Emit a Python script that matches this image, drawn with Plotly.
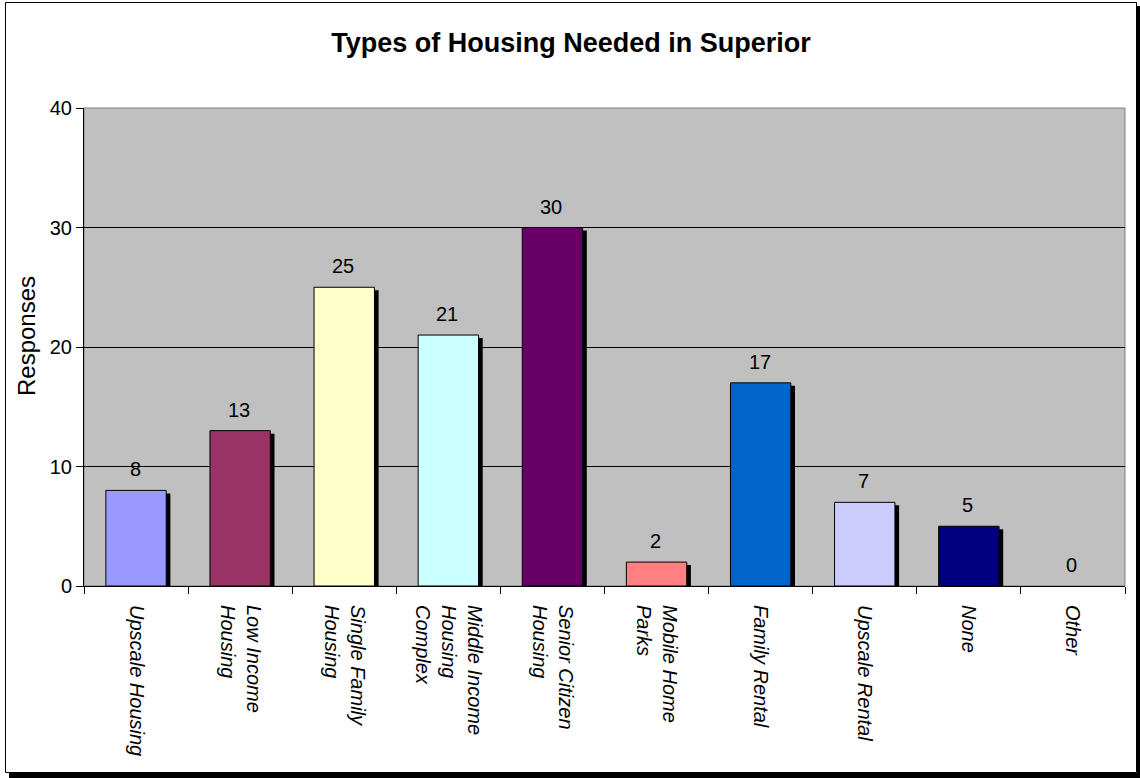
import plotly.graph_objects as go

# Survey responses: types of housing needed
categories = [
    "Upscale Housing",
    "Low Income<br>Housing",
    "Single Family<br>Housing",
    "Middle Income<br>Housing<br>Complex",
    "Senior Citizen<br>Housing",
    "Mobile Home<br>Parks",
    "Family Rental",
    "Upscale Rental",
    "None",
    "Other",
]
responses = [8, 13, 25, 21, 30, 2, 17, 7, 5, 0]
bar_colors = [
    "#9999FF", "#993366", "#FFFFCC", "#CCFFFF", "#660066",
    "#FF8080", "#0066CC", "#CCCCFF", "#000080", "#FFFF00",
]
y_ticks = [0, 10, 20, 30, 40]

FONT = "Liberation Sans, Arial, sans-serif"
W, H = 1140, 778
L, R, T, B = 84, 15, 108, 192
PW, PH = W - L - R, H - T - B

BAR_W = 0.58
BAR_OFF = -0.29


def px_x(px):
    return (px - L) / PW


def px_y(py):
    return (H - B - py) / PH


fig = go.Figure()

# drop shadow behind each bar (shifted right and down)
fig.add_trace(go.Bar(
    x=categories, y=responses, base=[-0.25] * len(responses),
    width=BAR_W, offset=BAR_OFF + 0.04,
    marker=dict(color="black", line=dict(width=0)),
    hoverinfo="skip", showlegend=False,
))

fig.add_trace(go.Bar(
    x=categories, y=responses,
    width=BAR_W, offset=BAR_OFF,
    marker=dict(color=bar_colors,
                line=dict(color="black", width=[1 if v > 0 else 0 for v in responses])),
    showlegend=False,
))

annotations = [
    dict(x=c, y=v, text=str(v), showarrow=False, yanchor="bottom",
         xshift=-1, yshift=8, font=dict(size=20, color="black", family=FONT))
    for c, v in zip(categories, responses)
]
# value-axis title
annotations.append(dict(
    text="Responses", textangle=-90, showarrow=False,
    xref="paper", yref="paper", x=px_x(26), y=px_y(336),
    xanchor="center", yanchor="middle",
    font=dict(size=24, family=FONT, color="black"),
))

shapes = [
    # plot area frame
    dict(type="rect", xref="paper", yref="paper", x0=0, x1=1, y0=0, y1=1,
         line=dict(color="#808080", width=1), layer="below"),
    # chart border
    dict(type="rect", xref="paper", yref="paper",
         x0=px_x(5.5), x1=px_x(1136.5), y0=px_y(2.5), y1=px_y(772.5),
         line=dict(color="black", width=1)),
    # border shadow (right and bottom)
    dict(type="rect", xref="paper", yref="paper",
         x0=px_x(1137), x1=px_x(1141), y0=px_y(6), y1=px_y(779),
         line=dict(width=0), fillcolor="black"),
    dict(type="rect", xref="paper", yref="paper",
         x0=px_x(9), x1=px_x(1141), y0=px_y(773), y1=px_y(779),
         line=dict(width=0), fillcolor="black"),
]

fig.update_layout(
    width=W, height=H,
    margin=dict(l=L, r=R, t=T, b=B),
    paper_bgcolor="white",
    plot_bgcolor="#C0C0C0",
    font=dict(family=FONT, color="black", size=20),
    title=dict(text="<b>Types of Housing Needed in Superior</b>",
               x=571 / W, xanchor="center",
               y=1 - 43 / H, yanchor="middle", yref="container",
               font=dict(size=27, family=FONT, color="black")),
    annotations=annotations,
    shapes=shapes,
)

fig.update_xaxes(
    showline=True, linecolor="black", linewidth=1,
    ticks="outside", tickson="boundaries", ticklen=7, tickcolor="black",
    tickangle=90, tickfont=dict(size=20, style="italic", family=FONT),
    ticklabelstandoff=14,
    showgrid=False, fixedrange=True,
)
fig.update_yaxes(
    range=[0, 40], tickvals=y_ticks,
    showline=True, linecolor="black", linewidth=1,
    ticks="outside", ticklen=7, tickcolor="black",
    showgrid=True, gridcolor="black", gridwidth=1,
    zeroline=False,
    tickfont=dict(size=20, family=FONT),
)

fig.write_html("out.html")
